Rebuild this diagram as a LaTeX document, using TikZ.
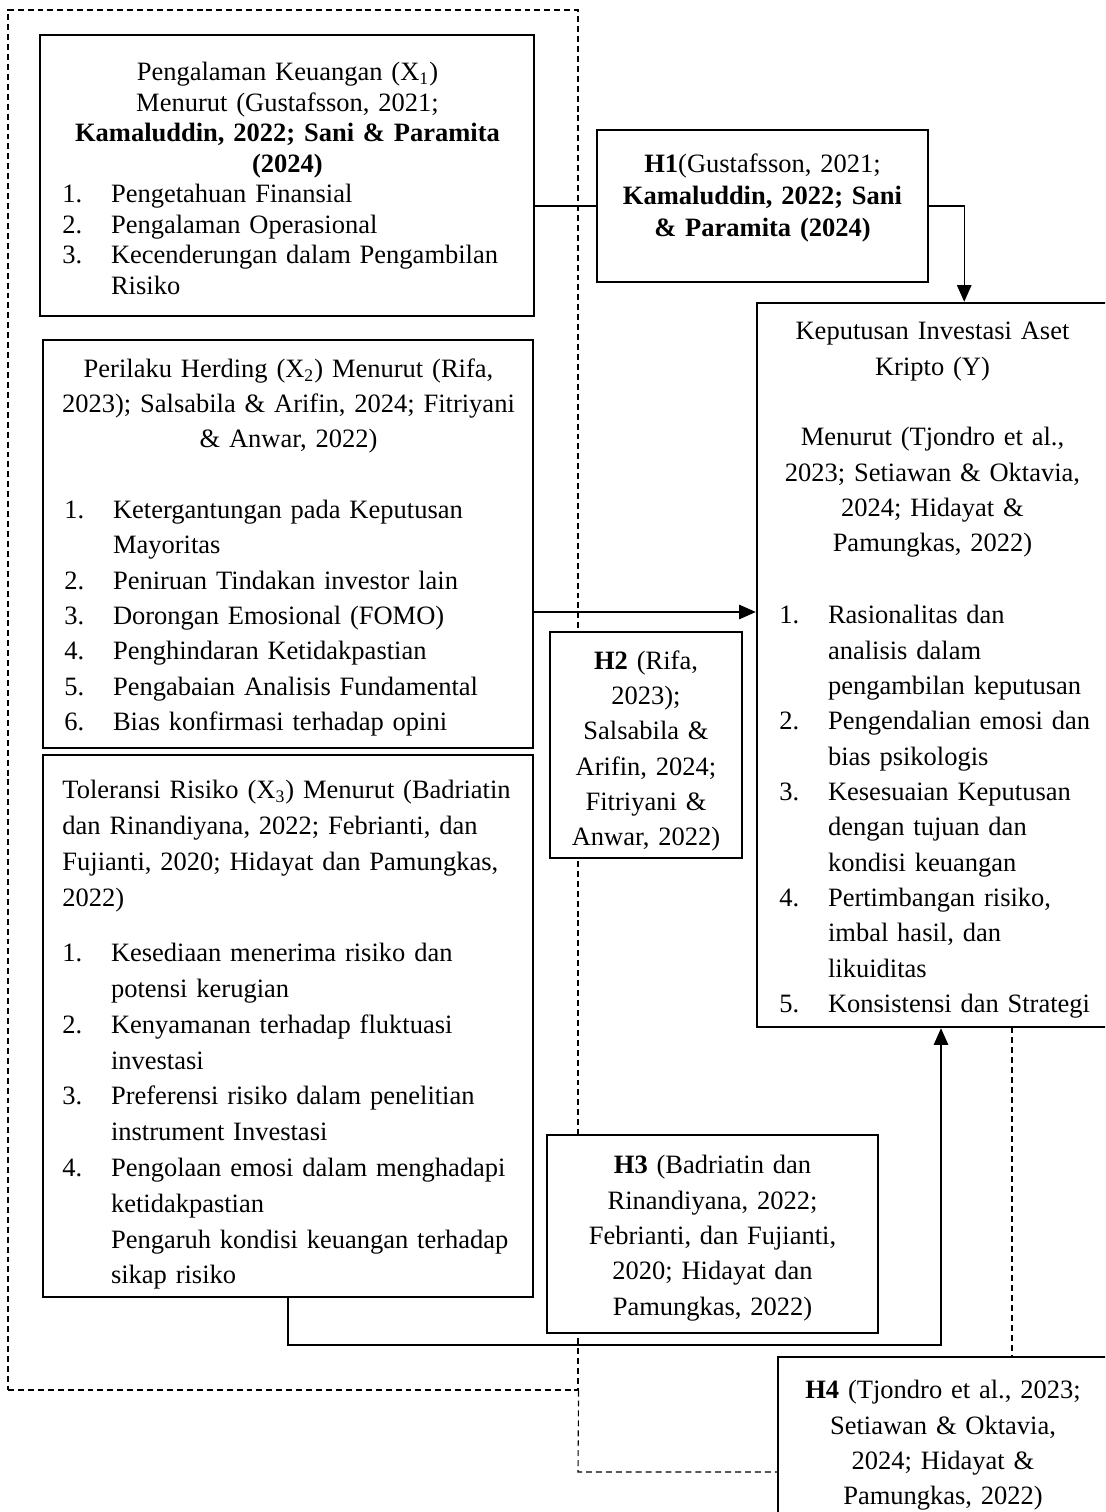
\documentclass[tikz,border=0pt]{standalone}
\usepackage{fontspec}
\setmainfont{Liberation Serif}
\usetikzlibrary{arrows.meta, fit}
\tikzstyle{varbox} = [rectangle, draw=black, line width=1.1pt, fill=white, inner sep=0pt]
\tikzstyle{boxtext} = [inner sep=0pt, anchor=north west, align=left, font=\fontsize{12}{16}\selectfont]
\tikzstyle{hyptext} = [inner sep=0pt, anchor=north, align=center, font=\fontsize{12}{16}\selectfont]
\tikzstyle{flow} = [line width=0.6pt, -{Triangle[length=7.5pt,width=6.5pt]}]
\tikzstyle{link} = [line width=0.6pt]
\tikzstyle{grouping} = [line width=0.5pt, dash pattern=on 2.7pt off 1.8pt]
\newlength{\numw}\setlength{\numw}{22pt}
\newcommand{\nitem}[2]{\mbox{\makebox[\numw][l]{#1}#2}}
\newcommand{\ncont}[1]{\mbox{\hspace*{\numw}#1}}
\newcommand{\midline}[1]{\makebox[\hsize][c]{#1}}

\begin{document}
\begin{tikzpicture}[x=0.4528pt, y=-0.4528pt]
  \useasboundingbox (0,0) rectangle (1105,1512);
  \clip (0,0) rectangle (1105,1512);

  % dashed frame round the independent variables
  \node (grp) [grouping, draw, inner sep=0pt, fit={(8,10) (578,1390)}] {};

  % boxes
  \node (x1) [varbox, fit={(40,35) (534,316)}] {};
  \node (h1) [varbox, fit={(597,130) (928,282)}] {};
  \node (x2) [varbox, fit={(43,340) (533,748)}] {};
  \node (x3) [varbox, fit={(43,755) (533,1297)}] {};
  \node (h2) [varbox, fit={(550,632) (742,858)}] {};
  \node (y)  [varbox, fit={(757,303) (1108,1027)}] {};
  \node (h3) [varbox, fit={(547,1135) (878,1333)}] {};
  \node (h4) [varbox, fit={(778,1357) (1108,1525)}] {};

  % texts
  \node (x1t) [boxtext, text width=203.8pt, font=\fontsize{12}{13.8}\selectfont] at (62,62) {%
    \midline{Pengalaman Keuangan (X\textsubscript{1})}\\
    \midline{Menurut (Gustafsson, 2021;}\\
    \midline{\textbf{Kamaluddin, 2022; Sani \& Paramita}}\\
    \midline{\textbf{(2024)}}\\
    \nitem{1.}{Pengetahuan Finansial}\\
    \nitem{2.}{Pengalaman Operasional}\\
    \nitem{3.}{Kecenderungan dalam Pengambilan}\\
    \ncont{Risiko}};
  \node (h1t) [hyptext, text width=140.8pt, font=\fontsize{12}{14.5}\selectfont] at (762.5,153) {%
    \textbf{H1}(Gustafsson, 2021;\\
    \textbf{Kamaluddin, 2022; Sani}\\
    \textbf{\& Paramita (2024)}};
  \node (x2t) [boxtext, text width=202.9pt] at (64,358) {%
    \midline{Perilaku Herding (X\textsubscript{2}) Menurut (Rifa,}\\
    \midline{2023); Salsabila \& Arifin, 2024; Fitriyani}\\
    \midline{\& Anwar, 2022)}\\[16pt]
    \nitem{1.}{Ketergantungan pada Keputusan}\\
    \ncont{Mayoritas}\\
    \nitem{2.}{Peniruan Tindakan investor lain}\\
    \nitem{3.}{Dorongan Emosional (FOMO)}\\
    \nitem{4.}{Penghindaran Ketidakpastian}\\
    \nitem{5.}{Pengabaian Analisis Fundamental}\\
    \nitem{6.}{Bias konfirmasi terhadap opini}};
  \node (x3t) [boxtext, text width=203.8pt, font=\fontsize{12}{16.2}\selectfont] at (62,780) {%
    \mbox{Toleransi Risiko (X\textsubscript{3}) Menurut (Badriatin}\\
    \mbox{dan Rinandiyana, 2022; Febrianti, dan}\\
    \mbox{Fujianti, 2020; Hidayat dan Pamungkas,}\\
    2022)\\[9pt]
    \nitem{1.}{Kesediaan menerima risiko dan}\\
    \ncont{potensi kerugian}\\
    \nitem{2.}{Kenyamanan terhadap fluktuasi}\\
    \ncont{investasi}\\
    \nitem{3.}{Preferensi risiko dalam penelitian}\\
    \ncont{instrument Investasi}\\
    \nitem{4.}{Pengolaan emosi dalam menghadapi}\\
    \ncont{ketidakpastian}\\
    \ncont{Pengaruh kondisi keuangan terhadap}\\
    \ncont{sikap risiko}};
  \node (h2t) [hyptext, text width=81.5pt] at (646,650) {%
    \textbf{H2} (Rifa,\\
    2023);\\
    Salsabila \&\\
    Arifin, 2024;\\
    Fitriyani \&\\
    Anwar, 2022)};
  \node (yt) [boxtext, text width=138.6pt] at (779,322) {%
    \midline{Keputusan Investasi Aset}\\
    \midline{Kripto (Y)}\\[16pt]
    \midline{Menurut (Tjondro et al.,}\\
    \midline{2023; Setiawan \& Oktavia,}\\
    \midline{2024; Hidayat \&}\\
    \midline{Pamungkas, 2022)}\\[16.5pt]
    \nitem{1.}{Rasionalitas dan}\\
    \ncont{analisis dalam}\\
    \ncont{pengambilan keputusan}\\
    \nitem{2.}{Pengendalian emosi dan}\\
    \ncont{bias psikologis}\\
    \nitem{3.}{Kesesuaian Keputusan}\\
    \ncont{dengan tujuan dan}\\
    \ncont{kondisi keuangan}\\
    \nitem{4.}{Pertimbangan risiko,}\\
    \ncont{imbal hasil, dan}\\
    \ncont{likuiditas}\\
    \nitem{5.}{Konsistensi dan Strategi}};
  \node (h3t) [hyptext, text width=140.8pt] at (712.5,1155) {%
    \textbf{H3} (Badriatin dan\\
    Rinandiyana, 2022;\\
    Febrianti, dan Fujianti,\\
    2020; Hidayat dan\\
    Pamungkas, 2022)};
  \node (h4t) [hyptext, text width=140pt] at (943,1380) {%
    \textbf{H4} (Tjondro et al., 2023;\\
    Setiawan \& Oktavia,\\
    2024; Hidayat \&\\
    Pamungkas, 2022)};

  % connectors
  \draw [link] (x1.east |- h1.west) -- (h1.west);
  \draw [flow] (h1.east) -- ++(35,0) coordinate (a1) -- (a1 |- y.north);
  \path (x2.east) ++(0,68) coordinate (a2);
  \draw [flow] (a2) -- (a2 -| y.west);
  \coordinate (a3) at (941,1345);
  \draw [flow] (x3.south) |- (a3) -- (a3 |- y.south);
  \coordinate (d4) at (1012,1027);
  \draw [grouping] (d4) -- (d4 |- h4.north);
  \coordinate (c4) at (578,1472);
  \draw [grouping] (grp.south east) -- (c4) -- (c4 -| h4.west);
\end{tikzpicture}
\end{document}
